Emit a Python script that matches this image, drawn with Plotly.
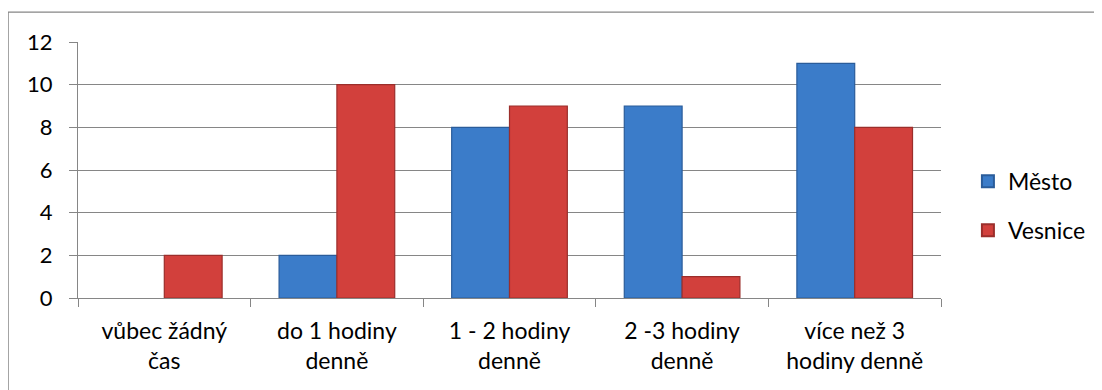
import plotly.graph_objects as go

categories = ["vůbec žádný<br>čas", "do 1 hodiny<br>denně", "1 - 2 hodiny<br>denně",
              "2 -3 hodiny<br>denně", "více než 3<br>hodiny denně"]
mesto = [0, 2, 8, 9, 11]
vesnice = [2, 10, 9, 1, 8]
y_ticks = [0, 2, 4, 6, 8, 10, 12]

FONT = "Lato, Open Sans, sans-serif"


def edge_widths(vals):
    return [0 if v == 0 else 1.2 for v in vals]


fig = go.Figure()
fig.add_trace(go.Bar(name="Město", x=categories, y=mesto, legendgroup="m",
                     marker=dict(color="#3B7CC9",
                                 line=dict(color="#2A5C9A", width=edge_widths(mesto)))))
fig.add_trace(go.Bar(name="Vesnice", x=categories, y=vesnice, legendgroup="v",
                     marker=dict(color="#D2403C",
                                 line=dict(color="#9B2E2B", width=edge_widths(vesnice)))))

# page body has an 8px margin, so the figure is sized to fit inside it
fig.update_layout(
    width=1094, height=382,
    margin=dict(l=70, r=160, t=34, b=92),
    paper_bgcolor="white", plot_bgcolor="white",
    barmode="group", bargap=0.33, bargroupgap=0,
    font=dict(family=FONT, size=22, color="#000000"),
    showlegend=True,
    legend=dict(x=1.030, y=0.36, xanchor="left", yanchor="middle",
                font=dict(size=23), itemsizing="constant",
                tracegroupgap=16, bgcolor="rgba(0,0,0,0)"),
    xaxis=dict(showline=True, linecolor="#868686", linewidth=1.3,
               ticks="outside", ticklen=8, tickcolor="#868686",
               tickson="boundaries", showgrid=False,
               ticklabelstandoff=12,
               tickfont=dict(size=23)),
    yaxis=dict(range=[0, 12], tickvals=y_ticks, showline=True,
               linecolor="#868686", linewidth=1.3,
               ticks="outside", ticklen=8, tickcolor="#868686",
               ticklabelstandoff=12,
               showgrid=True, gridcolor="#868686", gridwidth=1.3,
               zeroline=False, tickfont=dict(size=22)),
    shapes=[dict(type="rect", xref="paper", yref="paper",
                 x0=-0.081, x1=1.25, y0=-0.5, y1=1.117,
                 line=dict(color="#868686", width=1.3), fillcolor="rgba(0,0,0,0)",
                 layer="below")],
)

fig.write_html("out.html")
